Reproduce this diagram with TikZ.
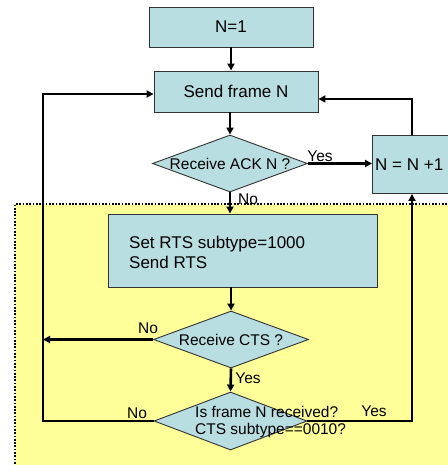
\documentclass[tikz,border=0pt]{standalone}
\usepackage{fontspec}
\setmainfont{Liberation Sans}
\usetikzlibrary{shapes.geometric,arrows.meta}
\definecolor{boxfill}{RGB}{185,222,226}
\definecolor{zone}{RGB}{255,255,153}
\begin{document}
\begin{tikzpicture}[x=1pt,y=-1pt,
  box/.style={draw=black!80,line width=0.9pt,fill=boxfill,rectangle,inner sep=0pt,font=\fontsize{17}{20}\selectfont},
  dia/.style={draw=black!80,line width=0.9pt,fill=boxfill,diamond,inner sep=0pt},
  dtext/.style={font=\fontsize{15.5}{17}\selectfont,inner sep=0pt},
  btext/.style={font=\fontsize{17}{20}\selectfont,inner sep=0pt},
  lab/.style={font=\fontsize{15.5}{17}\selectfont,inner sep=0pt},
  conn/.style={line width=2.6pt,-{Triangle[length=7pt,width=7pt]}},
  dotline/.style={line width=2.2pt,dash pattern=on 1.7pt off 1.6pt}]
\useasboundingbox (0,0) rectangle (447,465);
% yellow zone
\fill[zone] (15,204) rectangle (470,490);
\draw[dotline] (15,490) -- (15,204) -- (470,204);
% helper coordinates
\coordinate (lx) at (43,0);
\coordinate (rx) at (412,0);
% nodes
\node[box,minimum width=164pt,minimum height=40pt] (n1) at (231,27) {N=1};
\node[box,minimum width=164pt,minimum height=41pt] (send) at (236,91.5) {Send frame N};
\node[dia,minimum width=155pt,minimum height=57pt] (ack) at (230,163.5) {};
\node[dtext] at (ack) {Receive ACK N ?};
\node[box,minimum width=95pt,minimum height=58pt,anchor=north west] (inc) at (372,135) {};
\node[btext,anchor=west] at (375,165) {N = N +1};
\node[box,minimum width=269pt,minimum height=73pt] (rts) at (242.5,250.5) {};
\node[btext,anchor=west,align=left] at (129,252) {Set RTS subtype=1000\\Send RTS};
\node[dia,minimum width=155pt,minimum height=57pt] (cts) at (231,339.5) {};
\node[dtext] at (cts) {Receive CTS ?};
\node[dia,minimum width=153pt,minimum height=58pt] (frm) at (230.5,421) {};
\node[dtext,anchor=west,align=left] at (195,421.5) {Is frame N received?\\CTS subtype==0010?};
\coordinate (sl) at ([yshift=-2.5pt]send.west);
\coordinate (sr) at ([yshift=-7.5pt]send.east);
% connectors
\draw[conn] (n1.south) -- (n1.south |- send.north);
\draw[conn] (ack.north |- send.south) -- (ack.north);
\draw[conn] (ack.east) -- (inc.west |- ack.east);
\draw[conn] (ack.south) -- (ack.south |- rts.north);
\draw[conn] (cts.north |- rts.south) -- (cts.north);
\draw[conn] (cts.west) -- (cts.west -| lx);
\draw[conn] (cts.south) -- (frm.north);
\draw[conn] (frm.west) -- (frm.west -| lx) -- (lx |- sl) -- (sl);
\draw[conn] (frm.east) -- (frm.east -| rx) -- (rx |- inc.south);
\draw[conn] (rx |- inc.north) -- (rx |- sr) -- (sr);
% labels
\node[lab] at (320,156) {Yes};
\node[lab] at (248,199) {No};
\node[lab] at (148,328) {No};
\node[lab] at (248,378) {Yes};
\node[lab] at (137,413) {No};
\node[lab] at (374,411) {Yes};
\end{tikzpicture}
\end{document}
